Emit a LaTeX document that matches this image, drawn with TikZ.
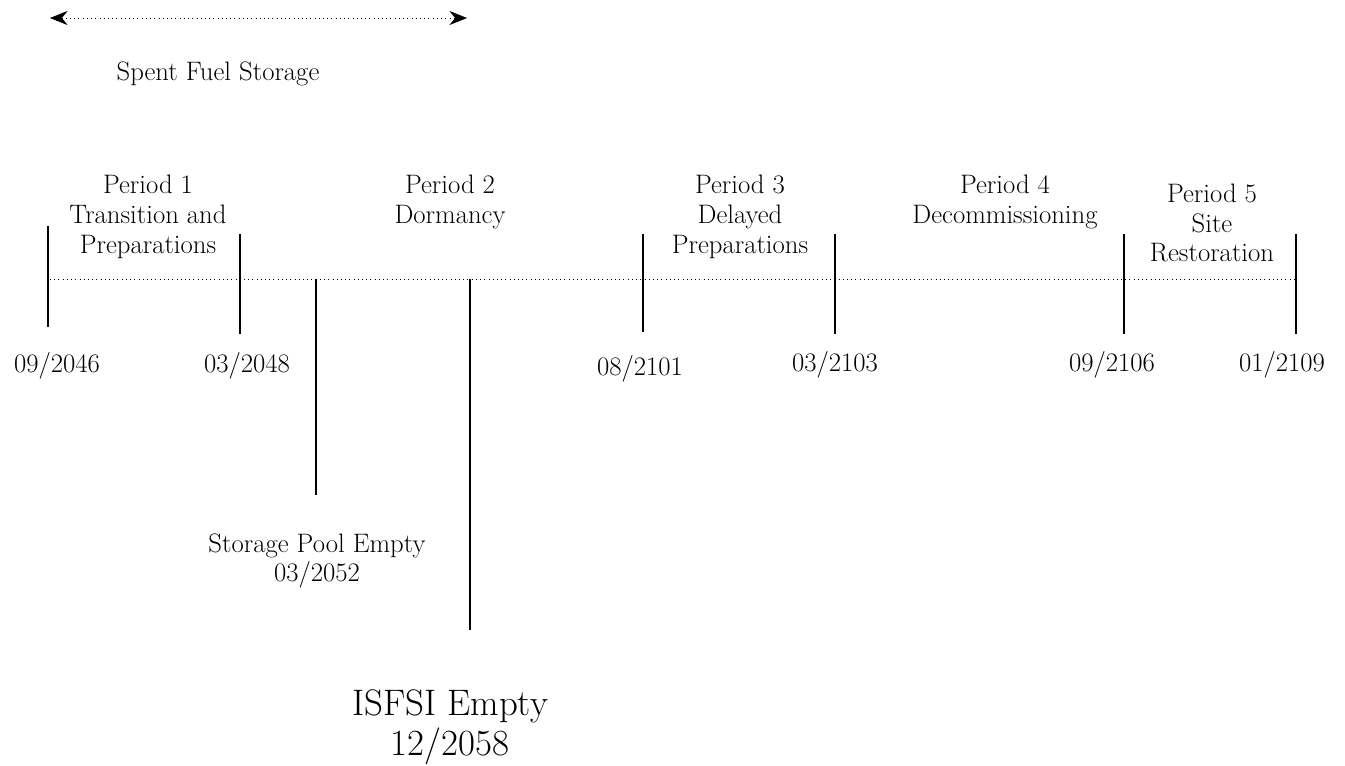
\documentclass[tikz,border=0pt]{standalone}
\usepackage{tikz}
\usetikzlibrary{arrows.meta}
\tikzset{every node/.style={font=\fontsize{15.2}{17}\selectfont, align=center},
  bar/.style={thick},
  axis/.style={dotted, thin}}

\begin{document}
\begin{tikzpicture}[x=0.02cm, y=-0.02cm]
    \useasboundingbox (0,0) rectangle (1345,765);
    % spent fuel storage span
    \coordinate (fs-l) at (50,18);
    \coordinate (fs-r) at (467,18);
    \draw[axis, {Stealth[length=10pt,width=8pt]}-{Stealth[length=10pt,width=8pt]}] (fs-l) -- (fs-r);
    \node (fs) at (218,74) {Spent Fuel Storage};
    % time line
    \coordinate (tl-l) at (50,279);
    \coordinate (tl-r) at (1298,279);
    \draw[axis] (tl-l) -- (tl-r);
    % period boundaries
    \foreach \n/\x/\a/\b in {p0/48/226/327, p1/240/234/334, p2/643/234/332,
                            p3/835/234/334, p4/1124/234/334, p5/1296/234/334,
                            pool/316/279/495, isfsi/470/279/630}
    {
      \coordinate (\n-t) at (\x,\a);
      \coordinate (\n-b) at (\x,\b);
      \draw[bar] (\n-t) -- (\n-b);
    }
    % period names
    \node (per1) at (148,217) {Period 1\\Transition and\\Preparations};
    \node (per2) at (450,202) {Period 2\\Dormancy};
    \node (per3) at (740,217) {Period 3\\Delayed\\Preparations};
    \node (per4) at (1005,202) {Period 4\\Decommissioning};
    \node (per5) at (1212,223) {Period 5\\Site\\Restoration};
    % dates
    \node (d0) at (57,366) {09/2046};
    \node (d1) at (247,366) {03/2048};
    \node (d2) at (640,369) {08/2101};
    \node (d3) at (835,365) {03/2103};
    \node (d4) at (1112,365) {09/2106};
    \node (d5) at (1282,365) {01/2109};
    \node (pool) at (317,561) {Storage Pool Empty\\03/2052};
    \node[font=\fontsize{21}{22.7}\selectfont] (isfsi) at (450,727) {ISFSI Empty\\12/2058};
\end{tikzpicture}
\end{document}
